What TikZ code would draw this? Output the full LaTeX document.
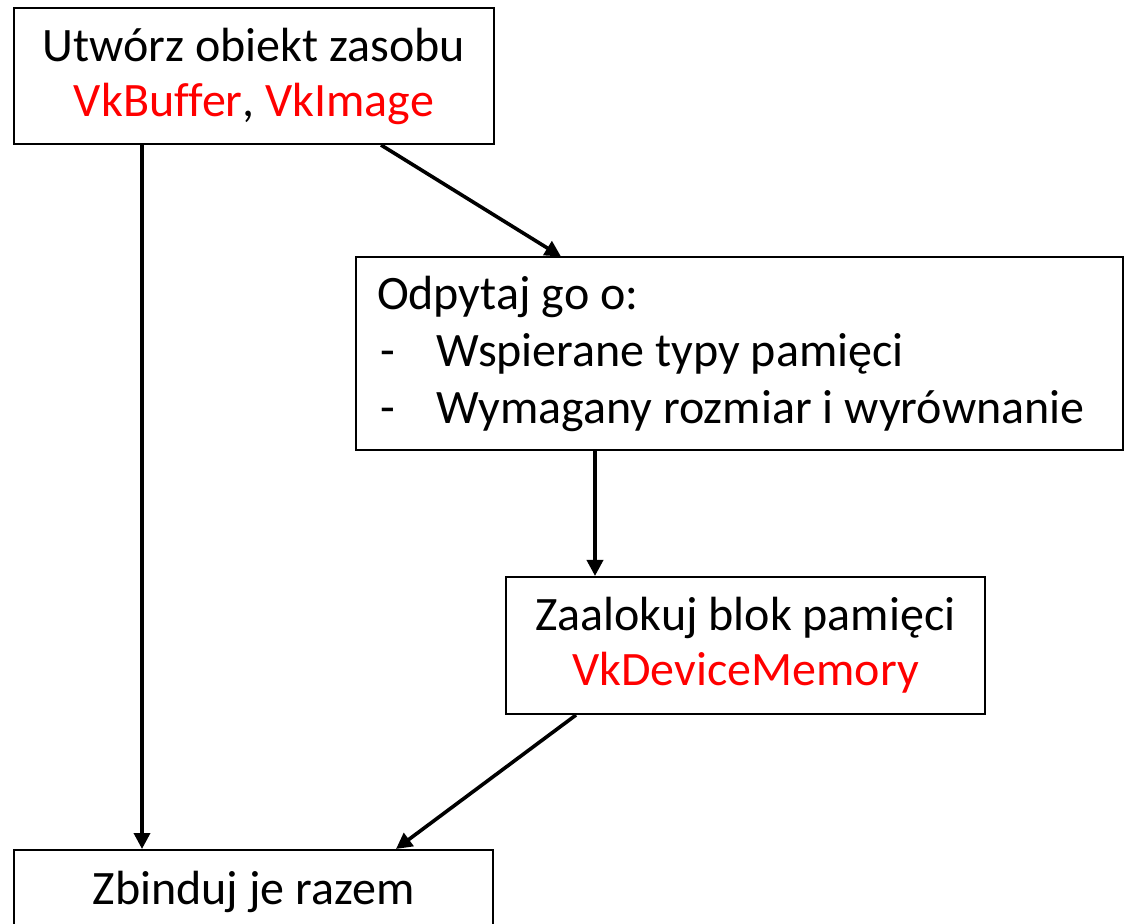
\documentclass[tikz,border=0pt]{standalone}
\usepackage{fontspec}
\setmainfont{Carlito}[Ligatures=NoCommon]
\usetikzlibrary{arrows.meta}
\newcommand{\dashitem}{\makebox[30pt][l]{\hspace{1.5pt}-}}
\begin{document}
\begin{tikzpicture}[x=0.5pt,y=-0.5pt,
  box/.style={draw=black,line width=1pt,fill=white,inner sep=0pt,font=\fontsize{24}{27.5}\selectfont},
  conn/.style={line width=1.8pt,-{Triangle[length=8pt,width=8pt]}}]
\clip (0,0) rectangle (1124,924);
\fill[white] (0,0) rectangle (1124,924);
\node[box,minimum width=240pt,minimum height=68pt,align=center] (b1) at (254,76)
  {Utwórz obiekt zasobu\\\textcolor{red}{VkBuffer}, \textcolor{red}{VkImage}};
\node[box,minimum width=383.5pt,minimum height=96.5pt,font=\fontsize{24}{28.5}\selectfont] (b2) at (739.5,354)
  {\parbox{362.5pt}{\raggedright Odpytaj go o:\par\dashitem Wspierane typy pamięci\par\dashitem Wymagany rozmiar i wyrównanie}};
\node[box,minimum width=239.5pt,minimum height=68.5pt,align=center] (b3) at (745.5,645.5)
  {Zaalokuj blok pamięci\\\textcolor{red}{VkDeviceMemory}};
\node[box,minimum width=239.5pt,text height=27pt,text depth=25pt,anchor=north] (b4) at (253.5,849)
  {Zbinduj je razem};
\draw[conn] ([xshift=64.5pt]b1.south west) -- ([xshift=64.5pt]b4.north west);
\draw[conn] ([xshift=184pt]b1.south west) -- ([xshift=103pt]b2.north west);
\draw[conn] ([xshift=120pt]b2.south west) -- ([xshift=45pt]b3.north west);
\draw[conn] ([xshift=35.5pt]b3.south west) -- ([xshift=191.5pt]b4.north west);
\end{tikzpicture}
\end{document}
